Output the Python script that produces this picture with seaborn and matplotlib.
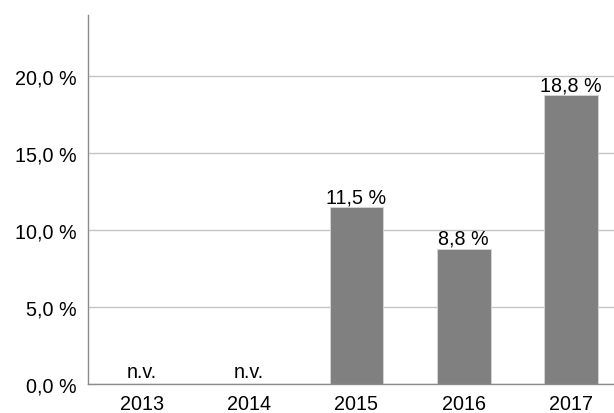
import numpy as np
import pandas as pd
import matplotlib
matplotlib.use("Agg")
import matplotlib.pyplot as plt
import seaborn as sns

years = ["2013", "2014", "2015", "2016", "2017"]
shares = [np.nan, np.nan, 11.5, 8.8, 18.8]
y_ticks = [0, 5, 10, 15, 20]

df = pd.DataFrame({"year": years, "share": shares})

sns.set_theme(style="white")
plt.rcParams["font.family"] = ["Liberation Sans", "DejaVu Sans"]
plt.rcParams["text.color"] = "black"

fig = plt.figure(figsize=(6.14, 4.14), dpi=100)
ax = fig.add_axes([0.1433, 0.070, 0.8567, 0.8914])

sns.barplot(data=df, x="year", y="share", order=years, color="#808080",
            saturation=1, width=0.5, edgecolor="#d8d8d8", linewidth=0.6, ax=ax)

ax.set_ylim(0, 24)
ax.set_xlim(-0.5, 4.4)
ax.set_yticks(y_ticks)
ax.set_yticklabels([f"{t:.1f} %".replace(".", ",") for t in y_ticks])
ax.set_xlabel("")
ax.set_ylabel("")
ax.yaxis.grid(True, color="#c4c4c4", linewidth=1.0)
ax.set_axisbelow(True)
ax.tick_params(axis="both", length=0, labelsize=14.2, colors="black")
ax.tick_params(axis="x", pad=7)
ax.tick_params(axis="y", pad=8)

for side in ["top", "right"]:
    ax.spines[side].set_visible(False)
for side in ["left", "bottom"]:
    ax.spines[side].set_color("#8c8c8c")
    ax.spines[side].set_linewidth(1.0)

for i, v in enumerate(shares):
    if np.isnan(v):
        ax.text(i, 0.2, "n.v.", ha="center", va="bottom", fontsize=14.2,
                color="black")
    else:
        ax.text(i, v + 0.05, f"{v:.1f} %".replace(".", ","), ha="center",
                va="bottom", fontsize=14.2, color="black")

fig.savefig("out.png", dpi=100)
